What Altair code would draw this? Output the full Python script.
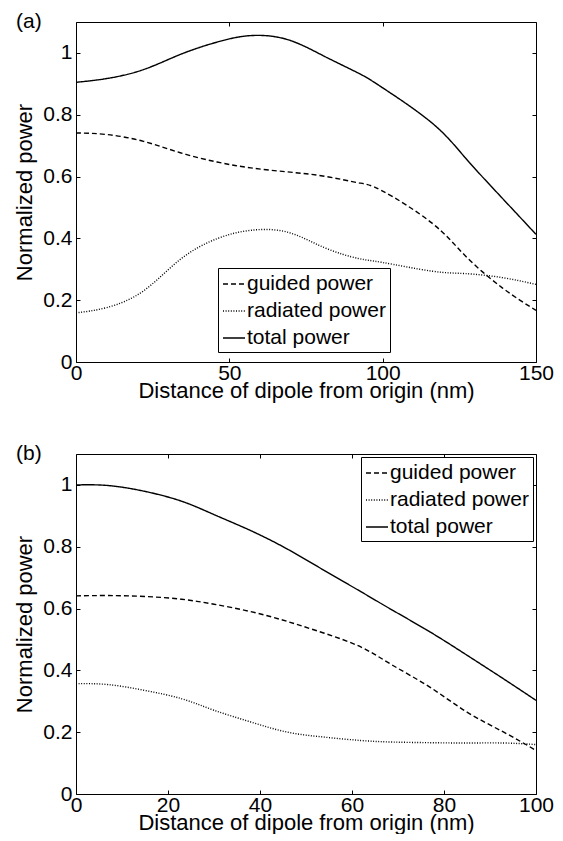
import altair as alt
import pandas as pd

# ---------------- data ----------------
series_names = ["guided power", "radiated power", "total power"]

# panel (a)
x_a = [0, 10, 22, 34, 46, 57, 69, 81, 92, 100, 116, 127, 139, 150]
guided_a = [0.741, 0.736, 0.714, 0.677, 0.647, 0.628, 0.615, 0.601, 0.58, 0.553, 0.45, 0.343, 0.24, 0.167]
radiated_a = [0.159, 0.176, 0.23, 0.332, 0.399, 0.426, 0.42, 0.37, 0.335, 0.322, 0.294, 0.286, 0.273, 0.251]
total_a = [0.905, 0.917, 0.946, 0.995, 1.035, 1.056, 1.043, 0.989, 0.935, 0.887, 0.774, 0.66, 0.53, 0.413]
xticks_a = [0, 50, 100, 150]

# panel (b)
x_b = [0, 7, 15, 23, 30, 38, 46, 54, 62, 69, 77, 85, 93, 100]
guided_b = [0.641, 0.642, 0.639, 0.63, 0.614, 0.59, 0.558, 0.52, 0.475, 0.415, 0.345, 0.265, 0.2, 0.141]
radiated_b = [0.357, 0.354, 0.335, 0.308, 0.271, 0.233, 0.2, 0.184, 0.173, 0.168, 0.166, 0.165, 0.165, 0.16]
total_b = [1.0, 0.998, 0.979, 0.947, 0.904, 0.852, 0.792, 0.723, 0.654, 0.593, 0.524, 0.449, 0.372, 0.303]
xticks_b = [0, 20, 40, 60, 80, 100]

yticks = [0, 0.2, 0.4, 0.6, 0.8, 1]

FONT = "Liberation Sans"
W, H = 460, 340


def make_df(x, g, r, t):
    rows = []
    for name, vals in zip(series_names, [g, r, t]):
        for xi, v in zip(x, vals):
            rows.append({"x": xi, "y": v, "series": name})
    return pd.DataFrame(rows)


def panel(df, xmax, xticks, label, lx, ly):
    xs = alt.Scale(domain=[0, xmax], nice=False, zero=False)
    ys = alt.Scale(domain=[0, 1.1], nice=False, zero=False)
    common = dict(offset=-4, tickSize=4, domain=False, grid=False,
                  tickColor="black", labelFlush=False, labelOverlap=False)
    lines = alt.Chart(df).mark_line(color="black", strokeWidth=1.4,
                                    interpolate="natural").encode(
        x=alt.X("x:Q", scale=xs,
                axis=alt.Axis(values=xticks, title="Distance of dipole from origin (nm)",
                              format="d", labelPadding=0, titlePadding=-3, **common)),
        y=alt.Y("y:Q", scale=ys,
                axis=alt.Axis(values=yticks, title="Normalized power", format="~g",
                              labelPadding=4, titlePadding=6, **common)),
        strokeDash=alt.StrokeDash(
            "series:N",
            scale=alt.Scale(domain=series_names, range=[[5, 3], [1, 1.6], [1, 0]]),
            legend=alt.Legend(title=None, orient="none", legendX=lx, legendY=ly,
                              symbolType="stroke", symbolStrokeColor="black",
                              symbolStrokeWidth=1.4, symbolSize=484,
                              labelFontSize=21, labelFont=FONT, labelColor="black",
                              labelOffset=1, strokeColor="black", fillColor="white",
                              padding=4, rowPadding=5)),
        order=alt.Order("x:Q"),
    )
    mirror = alt.Chart(df).mark_point(opacity=0).encode(
        x=alt.X("x:Q", scale=xs,
                axis=alt.Axis(orient="top", values=xticks, labels=False, title="", **common)),
        y=alt.Y("y:Q", scale=ys,
                axis=alt.Axis(orient="right", values=yticks, labels=False, title="", **common)),
    )
    lab = alt.Chart(pd.DataFrame({"t": [label]})).mark_text(
        align="left", baseline="alphabetic", fontSize=21, font=FONT, color="black"
    ).encode(text="t:N", x=alt.value(-60), y=alt.value(6))
    return alt.layer(lines, mirror, lab).resolve_axis(
        x="independent", y="independent").properties(width=W, height=H)


pa = panel(make_df(x_a, guided_a, radiated_a, total_a), 150, xticks_a, "(a)", 142, 246)
pb = panel(make_df(x_b, guided_b, radiated_b, total_b), 100, xticks_b, "(b)", 285, 3)

chart = alt.vconcat(pa, pb, spacing=92, bounds="flush").resolve_scale(
    strokeDash="independent"
).properties(
    padding={"left": 5, "top": 2, "right": 0, "bottom": 0},
).configure(font=FONT).configure_view(stroke="black", strokeWidth=1).configure_axis(
    labelFont=FONT, labelFontSize=21, labelColor="black",
    titleFont=FONT, titleFontSize=22, titleFontWeight="normal", titleColor="black",
)

chart.save("out.html", embed_options={"renderer": "svg", "actions": False})
